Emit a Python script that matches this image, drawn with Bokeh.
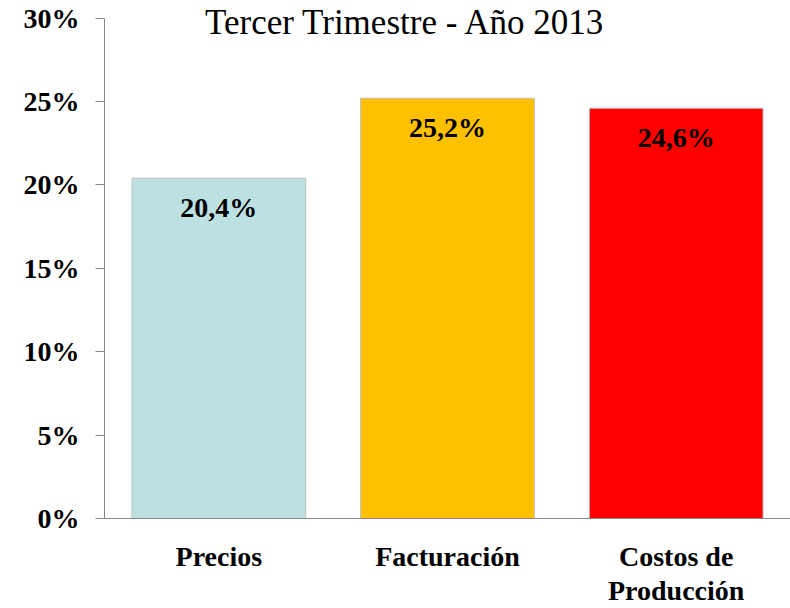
from bokeh.plotting import figure
from bokeh.models import ColumnDataSource, FixedTicker, PrintfTickFormatter, Label, FactorRange, Range1d
from bokeh.embed import file_html
from bokeh.resources import INLINE
from bokeh.core.properties import value

# Data
categories = ["Precios", "Facturación", "Costos de\nProducción"]
values = [20.4, 25.2, 24.6]
colors = ["#BDE1E3", "#FFC000", "#FF0000"]
y_ticks = [0, 5, 10, 15, 20, 25, 30]
title_text = "Tercer Trimestre - Año 2013"

labels = [f"{v:.1f}".replace(".", ",") + "%" for v in values]

source = ColumnDataSource(dict(cat=categories, val=values, color=colors, label=labels))

SERIF = "Liberation Serif"

p = figure(
    width=790, height=608,
    x_range=FactorRange(*categories),
    y_range=Range1d(0, 31),
    output_backend="svg", toolbar_location=None,
    min_border_left=104, min_border_right=0, min_border_top=1, min_border_bottom=89,
)
p.outline_line_color = None
p.xgrid.grid_line_color = None
p.ygrid.grid_line_color = None

p.vbar(x="cat", top="val", width=0.76, fill_color="color", line_color="#BFBFBF",
       line_width=1, source=source)

p.text(x="cat", y="val", text="label", source=source, text_align="center",
       text_baseline="middle", y_offset=29, text_font=value(SERIF),
       text_font_style="bold", text_font_size="28px", text_color="black")

# Y axis
p.yaxis.ticker = FixedTicker(ticks=y_ticks)
p.yaxis.bounds = (0, 30)
p.yaxis.formatter = PrintfTickFormatter(format="%d%%")
p.yaxis.axis_line_color = "#868686"
p.yaxis.major_tick_line_color = "#868686"
p.yaxis.major_tick_out = 9
p.yaxis.major_tick_in = 0
p.yaxis.minor_tick_line_color = None
p.yaxis.major_label_text_font = SERIF
p.yaxis.major_label_text_font_style = "bold"
p.yaxis.major_label_text_font_size = "28px"
p.yaxis.major_label_text_color = "black"
p.yaxis.major_label_standoff = 16

# X axis
p.xaxis.axis_line_color = "#868686"
p.xaxis.major_tick_line_color = None
p.xaxis.major_tick_out = 0
p.xaxis.major_tick_in = 0
p.xaxis.major_label_text_font = SERIF
p.xaxis.major_label_text_font_style = "bold"
p.xaxis.major_label_text_font_size = "28px"
p.xaxis.major_label_text_color = "black"
p.xaxis.major_label_standoff = 22
p.xaxis.major_label_text_line_height = 1.1

title = Label(x=1.316, y=29.75, text=title_text, text_font=SERIF, text_font_size="35px",
              text_align="center", text_baseline="middle", text_color="black")
p.add_layout(title)

open("out.html", "w").write(file_html(p, INLINE))
